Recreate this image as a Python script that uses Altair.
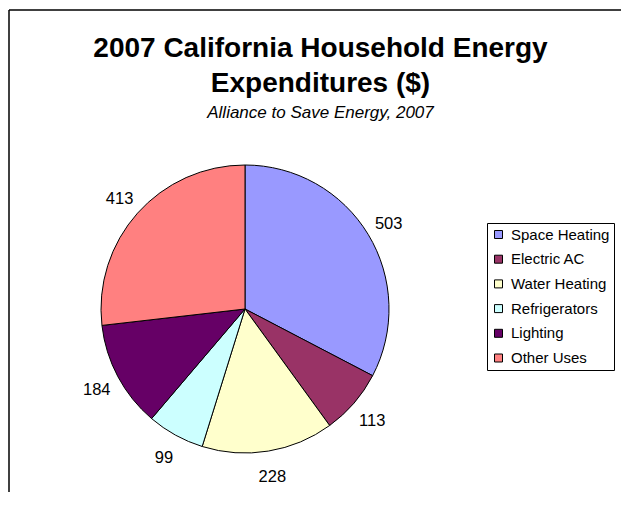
import altair as alt
import pandas as pd

# ---- data ----
categories = ["Space Heating", "Electric AC", "Water Heating", "Refrigerators", "Lighting", "Other Uses"]
values = [503, 113, 228, 99, 184, 413]
colors = ["#9999FF", "#993366", "#FFFFCC", "#CCFFFF", "#660066", "#FF8080"]

title_lines = ["2007 California Household Energy", "Expenditures ($)"]
subtitle = "Alliance to Save Energy, 2007"

df = pd.DataFrame({"category": categories, "value": values,
                   "order": list(range(len(categories)))})

W, H = 613, 484
CX, CY = 237, 301
FONT = "Liberation Sans"

base = alt.Chart(df).encode(
    theta=alt.Theta("value:Q", stack=True),
    order=alt.Order("order:Q"),
)

pie = base.mark_arc(radius=144, stroke="black", strokeWidth=1).encode(
    x=alt.value(CX),
    y=alt.value(CY),
    color=alt.Color(
        "category:N",
        sort=categories,
        scale=alt.Scale(domain=categories, range=colors),
        legend=alt.Legend(
            title=None,
            orient="none",
            legendX=479,
            legendY=215,
            symbolType="square",
            symbolSize=64,
            symbolStrokeColor="black",
            symbolStrokeWidth=1,
            labelFont=FONT,
            labelFontSize=15,
            labelColor="black",
            labelOffset=5,
            labelExpr="datum.label + '\u00a0\u00a0\u00a0\u00a0'",
            rowPadding=8.7,
            padding=4,
            strokeColor="black",
            fillColor="white",
        ),
    ),
)

labels = base.mark_text(radius=168, fontSize=16.5, font=FONT, color="black", dy=2).encode(
    x=alt.value(CX),
    y=alt.value(CY),
    text=alt.Text("value:Q"),
)

frame_data = alt.Data(values=[{}])
frame_top = alt.Chart(frame_data).mark_rule(color="black", strokeWidth=1.5).encode(
    x=alt.value(1), x2=alt.value(W + 20), y=alt.value(2)
)
frame_left = alt.Chart(frame_data).mark_rule(color="black", strokeWidth=1.5).encode(
    x=alt.value(1), y=alt.value(2), y2=alt.value(H + 20)
)

chart = alt.layer(frame_top, frame_left, pie, labels).properties(
    width=W,
    height=H,
    padding=0,
    autosize=alt.AutoSizeParams(type="none"),
    title=alt.TitleParams(
        text=title_lines,
        subtitle=subtitle,
        font=FONT,
        fontSize=28,
        fontWeight="bold",
        lineHeight=35,
        color="black",
        subtitleFont=FONT,
        subtitleFontSize=17,
        subtitleFontStyle="italic",
        subtitleColor="black",
        subtitlePadding=7,
        anchor="middle",
        frame="group",
        dx=6,
        offset=-113,
    ),
).configure_view(stroke=None)

chart.save("out.html", embed_options={"renderer": "svg", "actions": False})
